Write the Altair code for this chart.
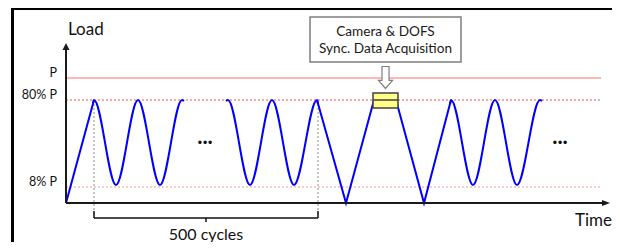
import altair as alt
import pandas as pd

# ---- data (schematic units: time t, load L) ----
# linear ramps of the load path
lin_t = [0, 28, 251, 280, 308, 330, 358, 385]
lin_L = [0, 103, 103, 0, 103, 103, 0, 103]
lin_seg = [0, 0, 1, 1, 1, 1, 1, 1]

# sinusoidal fatigue cycles (peaks / troughs)
sin_t = [27, 28, 50, 72, 94, 116, 118,
         160, 162, 184, 206, 228, 251, 252,
         384, 385, 407, 429, 451, 474, 476]
sin_L = [100, 103, 18, 103, 18, 103, 102,
         102, 103, 18, 103, 18, 103, 99,
         99, 103, 18, 103, 18, 103, 102]
sin_seg = [0] * 7 + [1] * 7 + [2] * 7

level_names = ["P", "80% P", "8% P"]
level_vals = [125, 103, 16]

cycle_marks_t = [28, 252]          # start / end of the 500-cycle block
hold_t = [308, 330]                # synchronized acquisition hold
dots_t = [139, 494]

FONT = "Lato"
W, H = 604, 234
xs = alt.Scale(domain=[-58, 546], nice=False, zero=False)
ys = alt.Scale(domain=[-39, 195], nice=False, zero=False)


def X(f="t"):
    return alt.X(f, type="quantitative", scale=xs, axis=None)


def Y(f="L"):
    return alt.Y(f, type="quantitative", scale=ys, axis=None)


def X2(f):
    return alt.X2(f)


def Y2(f):
    return alt.Y2(f)


lin_df = pd.DataFrame({"t": lin_t, "L": lin_L, "seg": lin_seg})
sin_df = pd.DataFrame({"t": sin_t, "L": sin_L, "seg": sin_seg})
lev_df = pd.DataFrame({"name": level_names, "L": level_vals,
                       "t0": [0] * 3, "t1": [535] * 3, "tl": [-9] * 3})
one = pd.DataFrame({"k": [0]})

layers = []

# reference levels
layers.append(alt.Chart(lev_df.iloc[[0]]).mark_rule(color="#ff7373", strokeWidth=1.2)
              .encode(x=X("t0"), x2=X2("t1"), y=Y()))
layers.append(alt.Chart(lev_df.iloc[[1]]).mark_rule(color="#ff4d4d", strokeWidth=1, strokeDash=[2, 2])
              .encode(x=X("t0"), x2=X2("t1"), y=Y()))
layers.append(alt.Chart(lev_df.iloc[[2]]).mark_rule(color="#f59a9a", strokeWidth=1, strokeDash=[2, 2])
              .encode(x=X("t0"), x2=X2("t1"), y=Y()))

# dotted verticals
vdf = pd.DataFrame({"t": cycle_marks_t, "a": [103, 103], "b": [-12, -12]})
layers.append(alt.Chart(vdf).mark_rule(color="#8c8c8c", strokeWidth=1, strokeDash=[2, 2])
              .encode(x=X(), y=Y("a"), y2=Y2("b")))

# bracket
bdf = pd.DataFrame({"t0": [cycle_marks_t[0]], "t1": [cycle_marks_t[1]], "L": [-15]})
layers.append(alt.Chart(bdf).mark_rule(color="#111111", strokeWidth=1.5)
              .encode(x=X("t0"), x2=X2("t1"), y=Y()))
edf = pd.DataFrame({"t": cycle_marks_t, "a": [-15, -15], "b": [-8, -8]})
layers.append(alt.Chart(edf).mark_rule(color="#111111", strokeWidth=1.5)
              .encode(x=X(), y=Y("a"), y2=Y2("b")))
cdf = pd.DataFrame({"t": [(cycle_marks_t[0] + cycle_marks_t[1]) / 2], "a": [-15], "b": [-19]})
layers.append(alt.Chart(cdf).mark_rule(color="#111111", strokeWidth=1.5)
              .encode(x=X(), y=Y("a"), y2=Y2("b")))

# load path
layers.append(alt.Chart(lin_df).mark_line(color="#0000ff", strokeWidth=2, interpolate="linear")
              .encode(x=X(), y=Y(), detail="seg:N"))
layers.append(alt.Chart(sin_df).mark_line(color="#0000ff", strokeWidth=2, interpolate="monotone")
              .encode(x=X(), y=Y(), detail="seg:N"))

# axes
layers.append(alt.Chart(pd.DataFrame({"t0": [0], "t1": [537], "L": [0]}))
              .mark_rule(color="#1a1a1a", strokeWidth=2)
              .encode(x=X("t0"), x2=X2("t1"), y=Y()))
layers.append(alt.Chart(pd.DataFrame({"t": [0], "a": [0], "b": [153]}))
              .mark_rule(color="#1a1a1a", strokeWidth=2)
              .encode(x=X(), y=Y("a"), y2=Y2("b")))
layers.append(alt.Chart(pd.DataFrame({"t": [0], "L": [156.5]}))
              .mark_point(shape="M0,-1L1,1L-1,1Z", filled=True, color="#1a1a1a", size=49, opacity=1)
              .encode(x=X(), y=Y()))
layers.append(alt.Chart(pd.DataFrame({"t": [540], "L": [0]}))
              .mark_point(shape="M1,0L-1,-0.75L-1,0.75Z", filled=True, color="#1a1a1a", size=64, opacity=1)
              .encode(x=X(), y=Y()))

# yellow acquisition marker
ydf = pd.DataFrame({"t0": [hold_t[0] - 1], "t1": [hold_t[1] + 2], "a": [95], "b": [110]})
layers.append(alt.Chart(ydf).mark_rect(fill="#ffff88", stroke="#404040", strokeWidth=1.5)
              .encode(x=X("t0"), x2=X2("t1"), y=Y("a"), y2=Y2("b")))
layers.append(alt.Chart(ydf.assign(L=103)).mark_rule(color="#404040", strokeWidth=1.5)
              .encode(x=X("t0"), x2=X2("t1"), y=Y()))

# block arrow
layers.append(alt.Chart(pd.DataFrame({"t": [319.5], "L": [125.5]}))
              .mark_point(shape="M-0.32,-1L0.32,-1L0.32,0.27L0.64,0.27L0,1L-0.64,0.27L-0.32,0.27Z",
                          filled=False, fill="#ffffff", stroke="#7f7f7f", strokeWidth=1.2,
                          size=484, opacity=1, fillOpacity=1)
              .encode(x=X(), y=Y()))

# camera box
layers.append(alt.Chart(pd.DataFrame({"t0": [244], "t1": [395], "a": [141], "b": [186]}))
              .mark_rect(fill="#ffffff", stroke="#7f7f7f", strokeWidth=1.5)
              .encode(x=X("t0"), x2=X2("t1"), y=Y("a"), y2=Y2("b")))
layers.append(alt.Chart(pd.DataFrame({"t": [319.5, 319.5], "L": [167, 150],
                                      "txt": ["Camera & DOFS", "Sync. Data Acquisition"]}))
              .mark_text(font=FONT, fontSize=13.6, color="#1a1a1a", align="center", baseline="alphabetic")
              .encode(x=X(), y=Y(), text="txt:N"))

# level labels
layers.append(alt.Chart(lev_df).mark_text(font=FONT, fontSize=12.5, color="#111111",
                                          align="right", baseline="alphabetic", dy=-1)
              .encode(x=X("tl"), y=Y(), text="name:N"))

# axis titles
layers.append(alt.Chart(pd.DataFrame({"t": [2], "L": [168], "txt": ["Load"]}))
              .mark_text(font=FONT, fontSize=17, color="#111111", align="left", baseline="alphabetic")
              .encode(x=X(), y=Y(), text="txt:N"))
layers.append(alt.Chart(pd.DataFrame({"t": [546], "L": [-23], "txt": ["Time"]}))
              .mark_text(font=FONT, fontSize=17, color="#111111", align="right", baseline="alphabetic")
              .encode(x=X(), y=Y(), text="txt:N"))
layers.append(alt.Chart(pd.DataFrame({"t": [140], "L": [-32], "txt": ["500 cycles"]}))
              .mark_text(font=FONT, fontSize=16, color="#111111", align="center", baseline="middle")
              .encode(x=X(), y=Y(), text="txt:N"))

# ellipsis dots
layers.append(alt.Chart(pd.DataFrame({"t": dots_t, "L": [59, 59], "txt": ["...", "..."]}))
              .mark_text(font=FONT, fontSize=22, fontWeight="bold", color="#111111",
                         align="center", baseline="alphabetic")
              .encode(x=X(), y=Y(), text="txt:N"))

# frame
layers.append(alt.Chart(one).mark_rule(color="#000000", strokeWidth=3)
              .encode(x=alt.value(4.5), y=alt.value(0), y2=alt.value(H)))
layers.append(alt.Chart(one).mark_rule(color="#000000", strokeWidth=3)
              .encode(x=alt.value(3), x2=alt.value(W), y=alt.value(0.5)))

chart = alt.layer(*layers).properties(
    width=W, height=H, padding=0, autosize=alt.AutoSizeParams(type="none"),
    background="#ffffff"
).configure_view(stroke=None)

chart.save("out.html", embed_options={"renderer": "svg", "actions": False})
